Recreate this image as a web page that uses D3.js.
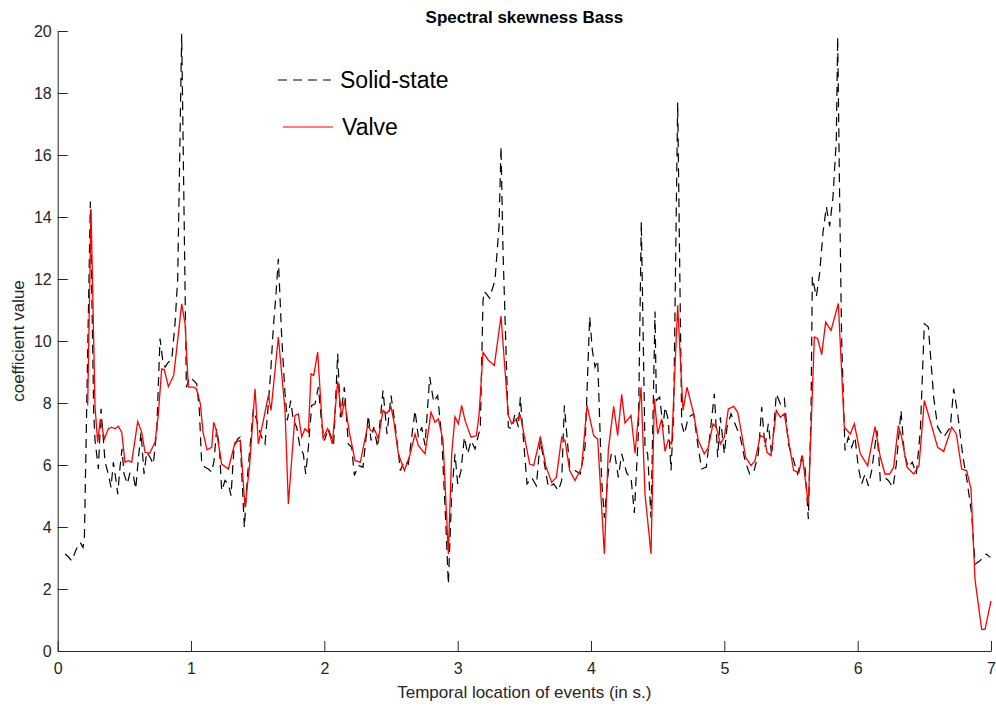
<!DOCTYPE html>
<html>
<head>
<meta charset="utf-8">
<script src="https://cdn.jsdelivr.net/npm/d3@7"></script>
<style>
  html, body { margin: 0; padding: 0; background: #fff; }
  svg { display: block; font-family: "Liberation Sans", Arial, sans-serif; }
</style>
</head>
<body>
<div id="chart"></div>
<script>
// chart data
const chartTitle = "Spectral skewness Bass";
const xLabel = "Temporal location of events (in s.)";
const yLabel = "coefficient value";
const seriesNames = ["Solid-state", "Valve"];
const xTicks = [0, 1, 2, 3, 4, 5, 6, 7];
const yTicks = [0, 2, 4, 6, 8, 10, 12, 14, 16, 18, 20];

// Solid-state (black dashed): time (s) and value
const solidT = [0.055, 0.08, 0.105, 0.14, 0.17, 0.19, 0.20, 0.245, 0.27, 0.28, 0.305, 0.325, 0.355, 0.38, 0.40, 0.4175,
  0.4375, 0.45, 0.4675, 0.4825, 0.4975, 0.5225, 0.5425, 0.5675, 0.585, 0.605, 0.625, 0.6475, 0.6675, 0.6925, 0.7175,
  0.7425, 0.7675, 0.7875, 0.805, 0.83, 0.855, 0.88, 0.90, 0.93, 0.965, 0.99, 1.0175, 1.0425, 1.0625, 1.08, 1.105,
  1.13, 1.155, 1.1725, 1.1925, 1.2125, 1.23, 1.255, 1.28, 1.30, 1.3225, 1.35, 1.3675, 1.40, 1.4225, 1.4475, 1.4675,
  1.4925, 1.525, 1.555, 1.575, 1.5975, 1.6175, 1.6375, 1.655, 1.68, 1.705, 1.7225, 1.7475, 1.7675, 1.7925, 1.8175,
  1.8425, 1.86, 1.88, 1.905, 1.93, 1.955, 1.98, 2.0, 2.03, 2.07, 2.10, 2.12, 2.15, 2.18, 2.205, 2.225, 2.255, 2.29,
  2.33, 2.35, 2.37, 2.40, 2.44, 2.47, 2.50, 2.53, 2.57, 2.60, 2.63, 2.68, 2.705, 2.73, 2.755, 2.79, 2.82, 2.85, 2.88,
  2.91, 2.93, 2.955, 2.98, 3.0, 3.025, 3.05, 3.075, 3.10, 3.13, 3.17, 3.19, 3.20, 3.24, 3.28, 3.31, 3.325, 3.34,
  3.38, 3.405, 3.43, 3.455, 3.47, 3.49, 3.52, 3.555, 3.59, 3.62, 3.655, 3.68, 3.72, 3.755, 3.78, 3.80, 3.82, 3.84,
  3.88, 3.92, 3.955, 3.99, 4.01, 4.03, 4.05, 4.08, 4.10, 4.13, 4.155, 4.18, 4.205, 4.23, 4.27, 4.30, 4.325, 4.355,
  4.377, 4.405, 4.425, 4.45, 4.48, 4.49, 4.515, 4.54, 4.555, 4.58, 4.60, 4.62, 4.65, 4.68, 4.70, 4.73, 4.77, 4.80,
  4.83, 4.865, 4.89, 4.925, 4.95, 4.97, 5.0, 5.02, 5.05, 5.08, 5.12, 5.155, 5.19, 5.22, 5.255, 5.28, 5.305, 5.33,
  5.355, 5.39, 5.42, 5.45, 5.48, 5.52, 5.55, 5.58, 5.605, 5.63, 5.65, 5.66, 5.69, 5.715, 5.74, 5.765, 5.79, 5.815,
  5.84, 5.85, 5.865, 5.88, 5.905, 5.93, 5.955, 5.98, 6.005, 6.03, 6.055, 6.08, 6.105, 6.145, 6.17, 6.20, 6.23, 6.265,
  6.29, 6.325, 6.35, 6.38, 6.41, 6.44, 6.47, 6.50, 6.53, 6.57, 6.60, 6.645, 6.695, 6.72, 6.75, 6.79, 6.82, 6.855,
  6.88, 6.917, 6.965, 6.995];
const solidV = [3.13, 3.04, 2.91, 3.29, 3.50, 3.34, 3.6, 14.5, 7.7, 6.8, 5.87, 7.81, 6.1, 5.7, 5.28, 6.09,
  5.5, 5.06, 5.93, 6.52, 5.71, 5.39, 5.76, 5.66, 5.23, 6.2, 7.06, 5.71, 6.41, 6.25, 6.03,
  7.11, 10.08, 9.38, 9.16, 9.32, 9.38, 10.56, 12.0, 19.9, 8.51, 8.84, 8.73, 8.62, 7.76, 6.03, 5.93,
  5.87, 5.77, 6.14, 7.17, 6.57, 5.17, 5.5, 5.39, 5.01, 6.57, 6.84, 6.90, 3.99, 5.6, 6.84, 7.81,
  7.44, 6.95, 6.68, 7.7, 9.0, 10.45, 11.53, 12.65, 10.13, 8.3, 7.44, 8.08, 7.44, 7.22, 6.57,
  6.36, 5.71, 6.57, 7.92, 7.97, 8.51, 7.33, 6.79, 7.17, 6.68, 9.59, 7.54, 8.51, 6.68, 6.57, 5.66, 5.98, 5.93,
  7.60, 6.79, 7.22, 6.57, 8.41, 7.0, 8.24, 7.33, 5.82, 6.14, 6.03, 7.76, 6.90, 7.22, 6.63, 8.84, 8.03, 8.24, 6.90,
  4.20, 2.16, 5.06, 6.36, 5.39, 5.82, 6.90, 6.36, 6.79, 6.52, 7.22, 11.32, 11.6, 11.38, 11.97, 13.7, 16.27, 12.9,
  7.22, 7.17, 7.65, 7.22, 8.19, 7.0, 5.39, 5.60, 5.33, 6.79, 5.93, 5.28, 5.39, 5.17, 5.5, 7.92, 6.90, 5.93,
  5.82, 5.71, 6.57, 10.78, 9.70, 9.16, 9.38, 5.5, 4.3, 5.8, 6.41, 6.3, 5.6, 6.36, 5.71, 5.60, 4.45, 7.0,
  13.85, 6.57, 6.36, 4.3, 10.95, 8.08, 8.19, 7.22, 7.87, 7.44, 5.82, 7.65, 17.7, 7.33, 7.0, 7.54, 7.65, 6.68,
  5.87, 5.93, 6.90, 8.30, 6.25, 7.54, 6.36, 7.22, 7.65, 7.33, 6.90, 6.14, 5.71, 5.76, 6.36, 7.87, 6.57, 7.33,
  6.30, 8.30, 7.97, 8.14, 6.68, 6.14, 5.71, 6.25, 5.93, 4.26, 7.65, 12.07, 11.43, 12.2, 13.5, 14.33, 13.7, 14.65,
  16.5, 19.8, 14.5, 10.0, 6.47, 6.90, 6.57, 6.90, 5.93, 5.39, 5.71, 5.33, 5.82, 7.11, 5.5, 5.60, 5.50, 5.28,
  6.03, 7.76, 6.36, 5.93, 6.09, 5.71, 7.11, 10.56, 10.45, 8.19, 7.22, 6.90, 7.22, 8.46, 7.65, 6.25, 5.5, 4.42,
  2.80, 2.91, 3.13, 3.02];

// Valve (red solid): time (s) and value
const valveT = [0.225, 0.25, 0.28, 0.30, 0.32, 0.35, 0.38, 0.405, 0.43, 0.455, 0.48, 0.505, 0.53, 0.555, 0.60, 0.63,
  0.655, 0.69, 0.73, 0.755, 0.78, 0.80, 0.83, 0.87, 0.89, 0.93, 0.955, 0.98, 1.02, 1.04, 1.07, 1.09, 1.12, 1.155,
  1.17, 1.19, 1.23, 1.28, 1.33, 1.37, 1.405, 1.44, 1.48, 1.505, 1.54, 1.58, 1.60, 1.655, 1.705, 1.73, 1.78, 1.805,
  1.83, 1.855, 1.88, 1.90, 1.92, 1.95, 1.99, 2.025, 2.06, 2.10, 2.13, 2.15, 2.19, 2.23, 2.27, 2.325, 2.35, 2.38,
  2.405, 2.44, 2.47, 2.50, 2.52, 2.555, 2.60, 2.64, 2.68, 2.705, 2.755, 2.80, 2.83, 2.855, 2.89, 2.93, 2.955, 2.98,
  3.005, 3.03, 3.055, 3.10, 3.14, 3.16, 3.19, 3.23, 3.275, 3.325, 3.38, 3.405, 3.47, 3.54, 3.57, 3.62, 3.66, 3.705,
  3.74, 3.78, 3.805, 3.84, 3.88, 3.93, 3.97, 4.02, 4.05, 4.10, 4.13, 4.17, 4.20, 4.23, 4.255, 4.30, 4.33, 4.375,
  4.405, 4.45, 4.475, 4.50, 4.53, 4.555, 4.58, 4.605, 4.65, 4.69, 4.72, 4.77, 4.805, 4.85, 4.88, 4.915, 4.94, 4.97,
  5.0, 5.03, 5.07, 5.10, 5.13, 5.16, 5.20, 5.23, 5.27, 5.30, 5.32, 5.35, 5.39, 5.42, 5.45, 5.49, 5.52, 5.56, 5.585,
  5.63, 5.675, 5.70, 5.73, 5.76, 5.80, 5.855, 5.90, 5.945, 5.975, 6.02, 6.075, 6.13, 6.17, 6.205, 6.24, 6.27, 6.305,
  6.33, 6.37, 6.42, 6.46, 6.50, 6.55, 6.60, 6.645, 6.705, 6.74, 6.78, 6.817, 6.85, 6.88, 6.93, 6.955, 7.0];
const valveV = [7.92, 14.25, 7.87, 6.73, 7.49, 6.84, 7.17, 7.22, 7.17, 7.25, 7.06, 6.09, 6.14, 6.09, 7.40, 7.06,
  6.41, 6.38, 6.73, 7.65, 9.10, 9.07, 8.53, 8.89, 9.64, 11.2, 10.56, 8.51, 8.51, 8.46, 7.97, 7.06, 6.49, 6.57,
  7.38, 7.11, 6.03, 5.87, 6.73, 6.79, 4.63, 6.03, 8.46, 6.68, 7.38, 8.24, 7.76, 10.13, 7.76, 4.74, 7.60, 7.65,
  6.90, 7.17, 7.06, 8.94, 8.89, 9.64, 6.87, 7.18, 6.68, 8.70, 7.54, 8.08, 7.0, 6.14, 6.09, 7.27, 7.11, 7.11,
  6.84, 7.76, 7.67, 7.87, 7.44, 6.36, 5.82, 6.30, 7.0, 6.63, 6.36, 7.70, 7.38, 7.49, 6.79, 3.13, 6.36, 7.56,
  7.33, 7.92, 7.44, 6.90, 6.95, 7.60, 9.64, 9.38, 9.21, 10.80, 7.60, 7.33, 7.60, 6.03, 5.98, 6.92, 5.98, 5.44,
  5.60, 6.90, 6.79, 5.82, 5.50, 5.93, 7.92, 6.95, 6.84, 3.13, 6.5, 7.89, 6.95, 8.28, 7.35, 7.60, 6.38, 8.51,
  5.06, 3.13, 8.14, 7.0, 7.49, 6.44, 6.81, 6.68, 11.15, 7.76, 8.51, 7.65, 6.79, 6.36, 6.57, 7.33, 7.22, 6.68,
  6.90, 7.81, 7.89, 7.70, 7.0, 6.25, 5.98, 6.14, 6.95, 6.90, 6.41, 6.30, 7.76, 7.54, 7.65, 6.57, 5.82, 5.76, 6.30,
  4.74, 10.13, 10.08, 9.56, 10.61, 10.34, 11.21, 7.22, 7.0, 7.33, 6.36, 5.98, 7.24, 6.25, 5.71, 5.71, 5.93, 7.27,
  6.90, 5.93, 5.71, 5.98, 8.08, 7.33, 6.57, 6.44, 7.22, 7.0, 5.87, 5.82, 5.23, 2.30, 0.70, 0.70, 1.62];

const width = 996, height = 711;
const margin = { top: 31, right: 5, bottom: 60, left: 57.7 };
const axisColor = "#262626";

const svg = d3.select("#chart").append("svg")
  .attr("width", width)
  .attr("height", height);

const x = d3.scaleLinear().domain([0, 7]).range([margin.left, width - margin.right]);
const y = d3.scaleLinear().domain([0, 20]).range([height - margin.bottom, margin.top]);

// axes, ticks point inward like matlab
svg.append("g")
  .attr("transform", `translate(0,${y(0)})`)
  .call(d3.axisBottom(x).tickValues(xTicks).tickFormat(d3.format("d"))
    .tickSizeInner(-10).tickSizeOuter(0).tickPadding(12))
  .call(g => g.selectAll("text").attr("font-size", 16).attr("fill", axisColor))
  .call(g => g.selectAll("line, path").attr("stroke", axisColor));

svg.append("g")
  .attr("transform", `translate(${x(0)},0)`)
  .call(d3.axisLeft(y).tickValues(yTicks).tickFormat(d3.format("d"))
    .tickSizeInner(-10).tickSizeOuter(0).tickPadding(6))
  .call(g => g.selectAll("text").attr("font-size", 16).attr("fill", axisColor))
  .call(g => g.selectAll("line, path").attr("stroke", axisColor));

// lines
const solid = solidT.map((t, i) => [t, solidV[i]]);
const valve = valveT.map((t, i) => [t, valveV[i]]);
const line = d3.line().x(d => x(d[0])).y(d => y(d[1]));

svg.append("path")
  .datum(solid)
  .attr("fill", "none")
  .attr("stroke", "#000")
  .attr("stroke-width", 1.2)
  .attr("stroke-dasharray", "9,6")
  .attr("d", line);

svg.append("path")
  .datum(valve)
  .attr("fill", "none")
  .attr("stroke", "#ff0000")
  .attr("stroke-width", 1.3)
  .attr("d", line);

// titles
svg.append("text")
  .attr("x", (x(0) + x(7)) / 2)
  .attr("y", 23)
  .attr("text-anchor", "middle")
  .attr("font-size", 17)
  .attr("font-weight", "bold")
  .attr("fill", "#000")
  .text(chartTitle);

svg.append("text")
  .attr("x", (x(0) + x(7)) / 2)
  .attr("y", 698)
  .attr("text-anchor", "middle")
  .attr("font-size", 17)
  .attr("fill", axisColor)
  .text(xLabel);

svg.append("text")
  .attr("transform", `translate(24,${(y(0) + y(20)) / 2}) rotate(-90)`)
  .attr("text-anchor", "middle")
  .attr("font-size", 17)
  .attr("fill", axisColor)
  .text(yLabel);

// legend
const legend = svg.append("g");
const legendRows = [
  { name: seriesNames[0], x1: 278, x2: 331, y: 80, tx: 340, stroke: "#000", dash: "9,6" },
  { name: seriesNames[1], x1: 283, x2: 333, y: 127, tx: 342, stroke: "#ff0000", dash: null }
];
legendRows.forEach(r => {
  legend.append("line")
    .attr("x1", r.x1).attr("x2", r.x2)
    .attr("y1", r.y).attr("y2", r.y)
    .attr("stroke", r.stroke)
    .attr("stroke-width", 1.2)
    .attr("stroke-dasharray", r.dash);
  legend.append("text")
    .attr("x", r.tx)
    .attr("y", r.y)
    .attr("dy", "0.35em")
    .attr("font-size", 23)
    .attr("fill", "#000")
    .text(r.name);
});
</script>
</body>
</html>
